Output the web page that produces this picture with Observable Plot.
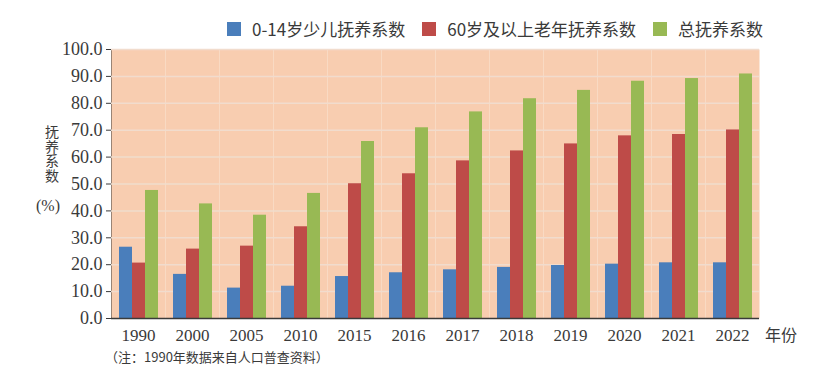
<!DOCTYPE html>
<html><head><meta charset="utf-8">
<script src="https://cdn.jsdelivr.net/npm/d3@7"></script>
<script src="https://cdn.jsdelivr.net/npm/@observablehq/plot@0.6"></script>
<style>
body{margin:0;background:#fff;}
#wrap{position:relative;width:831px;height:379px;overflow:hidden;font-family:"Noto Sans CJK SC",sans-serif;color:#3a3a3a;}
#chart{position:absolute;left:0;top:0;}
#legend{position:absolute;left:227px;top:19px;display:flex;align-items:center;font-size:17px;line-height:20px;}
#legend .item{display:flex;align-items:center;margin-right:17px;}
#legend .sw{width:14px;height:14px;margin-right:11px;}
#ytitle{position:absolute;left:44px;top:125px;font-size:14px;line-height:16px;writing-mode:vertical-rl;letter-spacing:0.5px;}
#ypct{position:absolute;left:36px;top:197px;font-family:"Liberation Serif",serif;font-size:16px;line-height:18px;}
#xunit{position:absolute;left:765px;top:324px;font-size:16px;line-height:20px;}
#note{position:absolute;left:105px;top:348px;font-size:13px;line-height:18px;}
</style></head><body><div id="wrap"><div id="chart"></div><div id="legend"></div><div id="ytitle"></div><div id="ypct">(%)</div><div id="xunit"></div><div id="note"></div></div>
<script>
const years = ["1990","2000","2005","2010","2015","2016","2017","2018","2019","2020","2021","2022"];
const seriesNames = ["0-14岁少儿抚养系数","60岁及以上老年抚养系数","总抚养系数"];
const childValues = [26.5,16.4,11.3,12.0,15.6,17.0,18.1,19.0,19.7,20.2,20.7,20.7];
const elderValues = [20.6,25.8,26.9,34.1,50.1,53.8,58.6,62.3,64.9,67.9,68.4,70.1];
const totalValues = [47.6,42.6,38.4,46.5,65.8,70.9,76.8,81.7,84.8,88.2,89.2,90.9];
const seriesColors = ["#4A7EBB","#BE4B48","#98B954"];
const yTicks = [0,10,20,30,40,50,60,70,80,90,100];
const yTitle = "抚养系数";
const xUnit = "年份";
const note = "（注：1990年数据来自人口普查资料）";

const seriesValues = [childValues, elderValues, totalValues];
const data = years.flatMap((year, i) => seriesNames.map((s, k) => ({year, series: s, value: seriesValues[k][i]})));

const chart = Plot.plot({
  width: 831, height: 379,
  marginTop: 49, marginBottom: 61, marginLeft: 109, marginRight: 71,
  style: {background: "transparent", fontFamily: "'Liberation Serif', serif", fontSize: "17px", color: "#3a3a3a"},
  facet: {data, x: "year"},
  fx: {domain: years, padding: 0, label: null, tickSize: 0, tickPadding: 10},
  x: {domain: seriesNames, paddingInner: 0, paddingOuter: 0.5, axis: null},
  y: {domain: [0, 100], ticks: yTicks, tickFormat: d3.format(".1f"), label: null, tickSize: 5, tickPadding: 4, line: true},
  color: {domain: seriesNames, range: seriesColors},
  marks: [
    Plot.frame({fill: "#F8CDB0", stroke: null}),
    Plot.ruleY(yTicks.slice(1), {stroke: "#F1DCCD", strokeWidth: 1.5}),
    Plot.barY(data, {x: "series", y: "value", fill: "series"}),
    Plot.ruleY([0], {stroke: "#3a3a3a", strokeWidth: 1.5})
  ]
});
document.getElementById("chart").appendChild(chart);
d3.select(chart).selectAll('g[aria-label^="y-axis"] text').attr("font-size", 18).style("font-size", "18px");
d3.select(chart).selectAll('g[aria-label^="fx-axis"] text').attr("font-size", 17).style("font-size", "17px");

const legend = d3.select("#legend");
seriesNames.forEach((s, k) => {
  const it = legend.append("div").attr("class", "item");
  it.append("div").attr("class", "sw").style("background", seriesColors[k]);
  it.append("span").text(s);
});
d3.select("#ytitle").text(yTitle);
d3.select("#xunit").text(xUnit);
d3.select("#note").text(note);
</script></body></html>
